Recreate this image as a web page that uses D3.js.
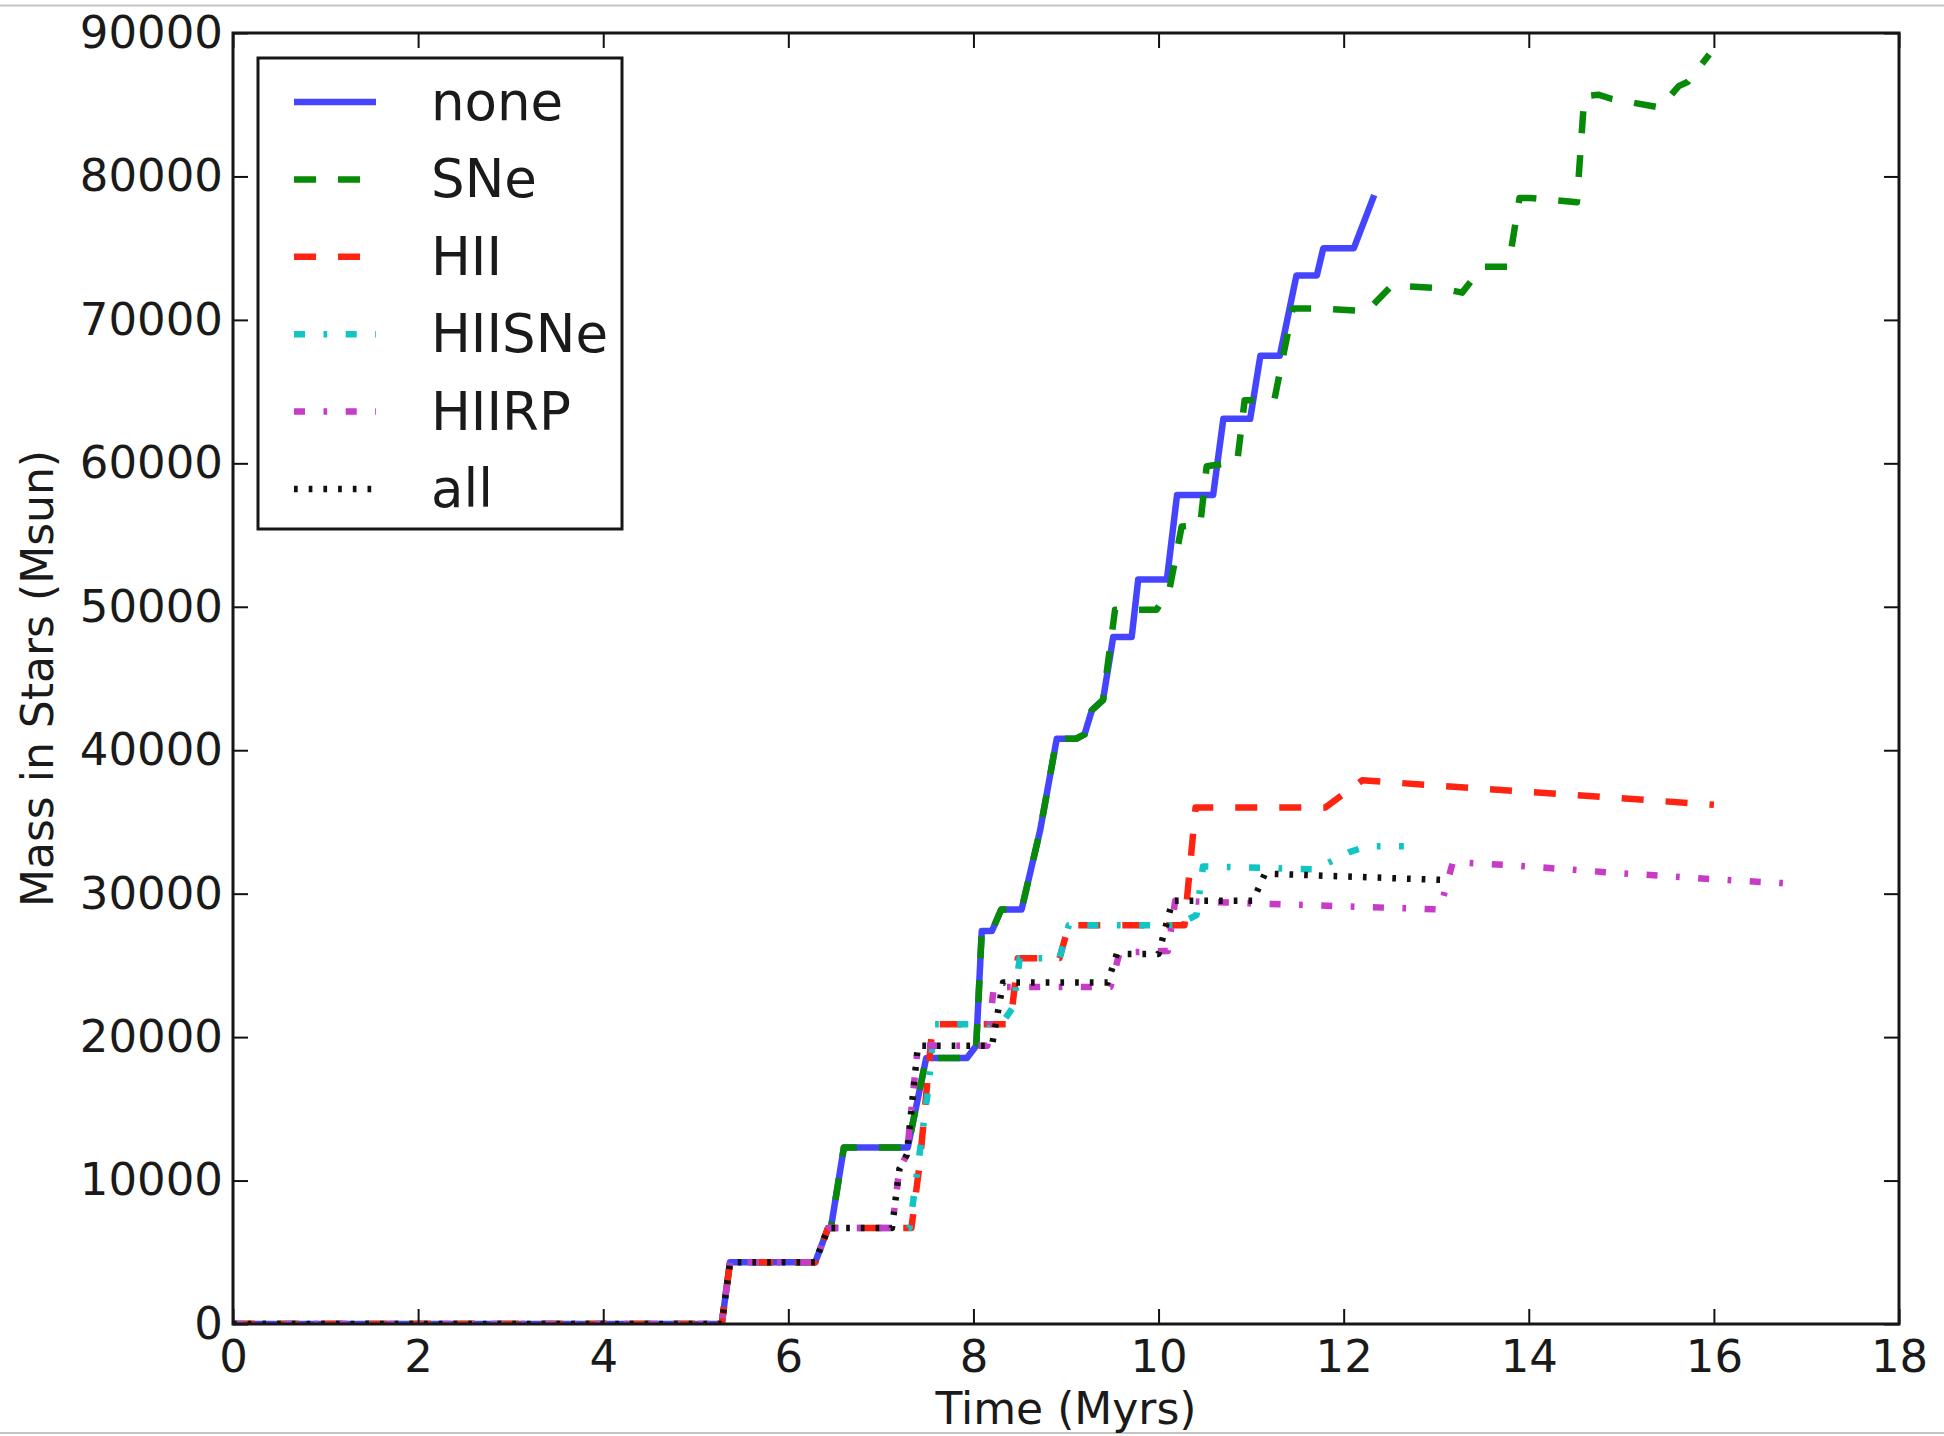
<!DOCTYPE html>
<html>
<head>
<meta charset="utf-8">
<script src="https://cdn.jsdelivr.net/npm/d3@7"></script>
<style>
  body { margin: 0; background: #fff; }
  svg { display: block; font-family: "DejaVu Sans", sans-serif; }
</style>
</head>
<body>
<svg id="chart"></svg>
<script>
// run names, in the order they were plotted
var runNames = ["none", "SNe", "HII", "HIISNe", "HIIRP", "all"];

// Time (Myrs) / Mass in Stars (Msun)
var timeNone = [0, 5.28, 5.37, 6.29, 6.43, 6.46, 6.60, 7.29, 7.49, 7.93, 8.03, 8.09, 8.20, 8.30, 8.52, 8.72, 8.90, 9.11, 9.20, 9.28, 9.40, 9.51, 9.71, 9.78, 10.09, 10.20, 10.59, 10.70, 10.99, 11.10, 11.31, 11.49, 11.71, 11.78, 12.11, 12.33];
var massNone = [0, 0, 4300, 4300, 6700, 6700, 12300, 12300, 18550, 18550, 19400, 27400, 27400, 28900, 28900, 34400, 40800, 40800, 41100, 42800, 43500, 47900, 47900, 51900, 51900, 57800, 57800, 63100, 63100, 67500, 67500, 73100, 73100, 75000, 75000, 78700];

var timeSNe = [0, 5.28, 5.37, 6.29, 6.43, 6.46, 6.60, 7.29, 7.49, 7.93, 8.03, 8.09, 8.20, 8.30, 8.52, 8.72, 8.90, 9.11, 9.20, 9.28, 9.40, 9.53, 9.98, 10.12, 10.25, 10.45, 10.52, 10.85, 10.93, 11.25, 11.45, 11.75, 12.25, 12.52, 13.05, 13.28, 13.50, 13.78, 13.90, 14.02, 14.52, 14.60, 14.75, 14.90, 15.42, 15.62, 15.72, 15.95];
var massSNe = [0, 0, 4300, 4300, 6700, 6700, 12300, 12300, 18550, 18550, 19400, 27400, 27400, 28900, 28900, 34400, 40800, 40800, 41100, 42800, 43500, 49800, 49800, 51300, 55600, 55700, 59800, 60100, 64400, 64400, 70800, 70800, 70600, 72400, 72200, 71900, 73700, 73700, 78500, 78500, 78200, 85600, 85700, 85400, 84800, 86300, 86600, 88500];

var timeHII = [0, 5.28, 5.37, 6.29, 6.43, 7.33, 7.42, 7.56, 8.36, 8.41, 8.48, 8.93, 9.03, 10.28, 10.40, 11.80, 12.20, 16.0];
var massHII = [0, 0, 4300, 4300, 6700, 6700, 11200, 20900, 20900, 21500, 25500, 25500, 27800, 27800, 36000, 36000, 37900, 36200];

var timeHIISNe = [0, 5.28, 5.37, 6.29, 6.43, 7.31, 7.51, 7.58, 8.30, 8.43, 8.50, 8.93, 9.03, 10.20, 10.41, 10.48, 11.70, 12.06, 12.25, 12.65];
var massHIISNe = [0, 0, 4300, 4300, 6700, 6700, 16300, 20900, 20900, 22100, 25500, 25500, 27800, 27800, 28500, 31900, 31700, 32900, 33300, 33300];

var timeHIIRP = [0, 5.28, 5.37, 6.29, 6.43, 7.12, 7.20, 7.28, 7.40, 8.15, 8.22, 9.48, 9.58, 10.10, 10.18, 13.04, 13.18, 13.77, 14.83, 16.0, 16.85];
var massHIIRP = [0, 0, 4300, 4300, 6700, 6700, 10800, 11800, 19400, 19400, 23500, 23500, 25900, 26000, 29500, 28900, 32200, 32000, 31500, 31000, 30700];

var timeAll = [0, 5.28, 5.37, 6.29, 6.43, 7.12, 7.20, 7.28, 7.40, 8.20, 8.32, 9.45, 9.55, 10.00, 10.15, 11.02, 11.15, 13.10];
var massAll = [0, 0, 4300, 4300, 6700, 6700, 10800, 11800, 19400, 19400, 23800, 23800, 25800, 25800, 29500, 29500, 31400, 30950];

var xTicks = [0, 2, 4, 6, 8, 10, 12, 14, 16, 18];
var yTicks = [0, 10000, 20000, 30000, 40000, 50000, 60000, 70000, 80000, 90000];

// line styles (matplotlib b-, g--, r--, c-., m-., k:)
var lineColors = ["#4545ff", "#078a07", "#ff2412", "#12c4c4", "#c83ac8", "#111111"];
var lineDashes = [null, "22,22", "22,22", "11,18.5,3.7,18.5", "11,18.5,3.7,18.5", "3.7,11"];

var width = 1944,
  height = 1436,
  margin = {top: 33, right: 45, bottom: 112, left: 233};

var svg = d3.select("#chart")
  .attr("width", width)
  .attr("height", height);

svg.append("rect")
  .attr("width", width)
  .attr("height", height)
  .attr("fill", "#fff");

// thin grey edges of the original screenshot
svg.append("line")
  .attr("x1", 0).attr("x2", width).attr("y1", 5.5).attr("y2", 5.5)
  .attr("stroke", "#c4c4c4").attr("stroke-width", 2);
svg.append("line")
  .attr("x1", 0).attr("x2", width).attr("y1", 1433).attr("y2", 1433)
  .attr("stroke", "#c4c4c4").attr("stroke-width", 2);

var x = d3.scaleLinear()
  .domain([0, 18])
  .range([margin.left, width - margin.right]);

var y = d3.scaleLinear()
  .domain([0, 90000])
  .range([height - margin.bottom, margin.top]);

svg.append("clipPath")
  .attr("id", "plotClip")
  .append("rect")
  .attr("x", margin.left)
  .attr("y", margin.top)
  .attr("width", x(18) - x(0))
  .attr("height", y(0) - y(90000));

// Build series from the arrays
var series = runNames.map(function(name, i) {
  var t = [timeNone, timeSNe, timeHII, timeHIISNe, timeHIIRP, timeAll][i];
  var m = [massNone, massSNe, massHII, massHIISNe, massHIIRP, massAll][i];
  return {
    name: name,
    color: lineColors[i],
    dash: lineDashes[i],
    values: t.map(function(d, j) { return {t: d, m: m[j]}; })
  };
});

var line = d3.line()
  .x(function(d) { return x(d.t); })
  .y(function(d) { return y(d.m); });

svg.append("g")
  .attr("clip-path", "url(#plotClip)")
  .selectAll("path")
  .data(series)
  .enter().append("path")
  .attr("d", function(d) { return line(d.values); })
  .attr("fill", "none")
  .attr("stroke", function(d) { return d.color; })
  .attr("stroke-width", 6.5)
  .attr("stroke-linejoin", "round")
  .attr("stroke-dasharray", function(d) { return d.dash; });

// Axes, ticks pointing inward on all four sides
function styleAxis(g) {
  g.select(".domain").remove();
  g.selectAll(".tick line").attr("stroke", "#111").attr("stroke-width", 2);
  g.selectAll(".tick text")
    .attr("fill", "#1a1a1a")
    .style("font-size", "45px")
    .style("font-family", "DejaVu Sans, sans-serif");
}

svg.append("g")
  .attr("transform", "translate(0," + y(0) + ")")
  .call(d3.axisBottom(x).tickValues(xTicks).tickFormat(d3.format("d"))
    .tickSizeInner(-15).tickSizeOuter(0).tickPadding(16))
  .call(styleAxis);

svg.append("g")
  .attr("transform", "translate(0," + y(90000) + ")")
  .call(d3.axisTop(x).tickValues(xTicks).tickFormat("")
    .tickSizeInner(-15).tickSizeOuter(0))
  .call(styleAxis);

svg.append("g")
  .attr("transform", "translate(" + x(0) + ",0)")
  .call(d3.axisLeft(y).tickValues(yTicks).tickFormat(d3.format("d"))
    .tickSizeInner(-15).tickSizeOuter(0).tickPadding(10))
  .call(styleAxis);

svg.append("g")
  .attr("transform", "translate(" + x(18) + ",0)")
  .call(d3.axisRight(y).tickValues(yTicks).tickFormat("")
    .tickSizeInner(-15).tickSizeOuter(0))
  .call(styleAxis);

// plot frame
svg.append("rect")
  .attr("x", x(0))
  .attr("y", y(90000))
  .attr("width", x(18) - x(0))
  .attr("height", y(0) - y(90000))
  .attr("fill", "none")
  .attr("stroke", "#161616")
  .attr("stroke-width", 3);

// axis labels
svg.append("text")
  .attr("x", (x(0) + x(18)) / 2)
  .attr("y", 1424)
  .attr("text-anchor", "middle")
  .attr("fill", "#1a1a1a")
  .style("font-size", "44px")
  .text("Time (Myrs)");

svg.append("text")
  .attr("transform", "translate(53," + (y(0) + y(90000)) / 2 + ") rotate(-90)")
  .attr("text-anchor", "middle")
  .attr("fill", "#1a1a1a")
  .style("font-size", "44px")
  .text("Mass in Stars (Msun)");

// legend
var legend = svg.append("g")
  .attr("class", "legend");

legend.append("rect")
  .attr("x", 258)
  .attr("y", 58)
  .attr("width", 364)
  .attr("height", 471)
  .attr("fill", "#fff")
  .attr("stroke", "#161616")
  .attr("stroke-width", 3);

var legendRow = legend.selectAll(".legend-row")
  .data(series)
  .enter().append("g")
  .attr("class", "legend-row")
  .attr("transform", function(d, i) {
    return "translate(0," + (102 + i * 77.4) + ")";
  });

legendRow.append("line")
  .attr("x1", 294)
  .attr("x2", 376)
  .attr("stroke", function(d) { return d.color; })
  .attr("stroke-width", 6.5)
  .attr("stroke-dasharray", function(d) { return d.dash; });

legendRow.append("text")
  .attr("x", 431)
  .attr("y", 18)
  .attr("fill", "#1a1a1a")
  .style("font-size", "53px")
  .text(function(d) { return d.name; });
</script>
</body>
</html>
